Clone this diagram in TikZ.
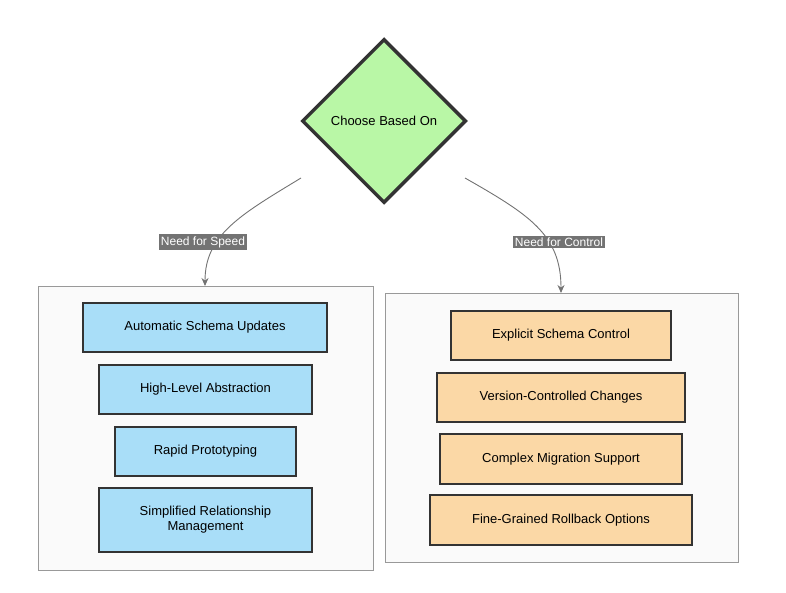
\documentclass[tikz,border=0pt]{standalone}
\usepackage{fontspec}
\setmainfont{Liberation Sans}
\usetikzlibrary{shapes.geometric,arrows.meta}
\definecolor{dgreen}{HTML}{B9F7A6}
\definecolor{dblue}{HTML}{A9DEF8}
\definecolor{dorange}{HTML}{FBD8A6}
\definecolor{edge}{HTML}{333333}
\tikzset{
 box/.style={draw=edge,line width=2pt,font=\fontsize{13}{15}\selectfont,align=center,inner sep=0pt},
 grp/.style={draw=gray!80,fill=black!2,line width=0.8pt},
 conn/.style={draw=black!55,line width=0.9pt,-{Stealth[length=8pt,width=7pt]}},
 lbl/.style={fill=black!55,text=white,font=\fontsize{12}{14}\selectfont,inner sep=2pt}
}
\newcommand{\bx}[5]{\node[box,fill=#5,minimum width=#3-#1,minimum height=#4-#2] at ({(#1+#3)/2},{(#2+#4)/2})}
\begin{document}
\begin{tikzpicture}[x=1pt,y=-1pt]
\useasboundingbox (0,0) rectangle (786,593);
\draw[grp] (38,286) rectangle (373,570);
\draw[grp] (385,293) rectangle (738,562);
\node[diamond,draw=edge,line width=3.5pt,fill=dgreen,minimum width=164,minimum height=164,inner sep=0pt,font=\fontsize{13}{15}\selectfont] (d) at (384,121) {Choose Based On};
\coordinate (l0) at (301,178); \coordinate (l1) at (205,286);
\coordinate (r0) at (465,178); \coordinate (r1) at (561,293);
\draw[conn] (l0) .. controls (240,215) and (205,235) .. (l1);
\draw[conn] (r0) .. controls (530,215) and (561,235) .. (r1);
\node[lbl] (ls) at (203,242) {Need for Speed};
\node[lbl] (lc) at (559,242) {Need for Control};
\bx{83}{303}{327}{352}{dblue} (a1) {Automatic Schema Updates};
\bx{99}{365}{312}{414}{dblue} (a2) {High-Level Abstraction};
\bx{115}{427}{296}{476}{dblue} (a3) {Rapid Prototyping};
\bx{99}{488}{312}{552}{dblue} (a4) {Simplified Relationship\\Management};
\bx{451}{311}{671}{360}{dorange} (b1) {Explicit Schema Control};
\bx{437}{373}{685}{422}{dorange} (b2) {Version-Controlled Changes};
\bx{440}{434}{682}{484}{dorange} (b3) {Complex Migration Support};
\bx{430}{495}{692}{545}{dorange} (b4) {Fine-Grained Rollback Options};
\end{tikzpicture}
\end{document}
